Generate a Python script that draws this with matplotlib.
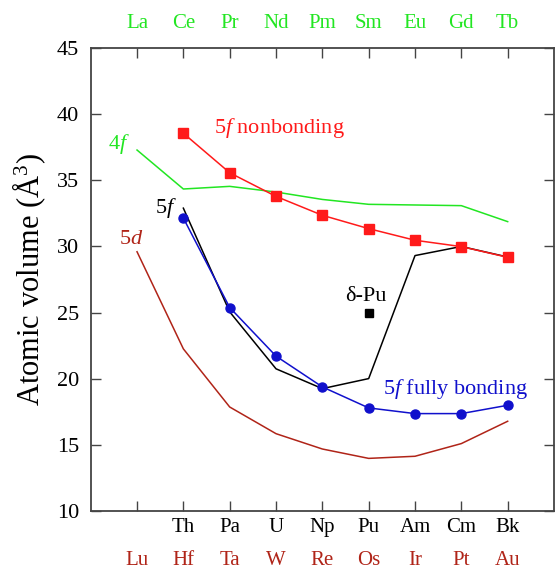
import matplotlib.pyplot as plt

plt.rcParams['font.family'] = ['Liberation Serif', 'DejaVu Serif']
plt.rcParams['mathtext.fontset'] = 'custom'
plt.rcParams['mathtext.rm'] = 'Liberation Serif'
plt.rcParams['mathtext.it'] = 'Liberation Serif:italic'

# element rows (position 0..8)
lanthanides = ['La', 'Ce', 'Pr', 'Nd', 'Pm', 'Sm', 'Eu', 'Gd', 'Tb']
actinides = ['', 'Th', 'Pa', 'U', 'Np', 'Pu', 'Am', 'Cm', 'Bk']
transition_5d = ['Lu', 'Hf', 'Ta', 'W', 'Re', 'Os', 'Ir', 'Pt', 'Au']

# atomic volumes (A^3)
vol_4f = [37.3, 34.35, 34.55, 34.12, 33.56, 33.19, 33.14, 33.09, 31.88]
vol_5d = [29.6, 22.25, 17.85, 15.83, 14.67, 13.96, 14.12, 15.08, 16.77]
vol_5f = [32.9, 25.05, 20.74, 19.24, 20.0, 29.31, 30.0, 29.2]            # Th..Bk measured
vol_5f_nonbond = [38.57, 35.58, 33.79, 32.36, 31.35, 30.47, 29.99, 29.18]  # Th..Bk
vol_5f_bond = [32.15, 25.38, 21.7, 19.37, 17.78, 17.35, 17.35, 17.98]     # Th..Bk
delta_pu = 25.0

green = '#22e622'
red = '#ff1a1a'
blue = '#1010cc'
dkred = '#b02418'

fig = plt.figure(figsize=(5.55, 5.70), dpi=100)
ax = fig.add_axes([90.7 / 555, (570 - 510.7) / 570, (554 - 90.7) / 555, 462.4 / 570])

x_all = list(range(9))
x_act = list(range(1, 9))

ax.plot(x_all, vol_4f, color=green, lw=1.1)
ax.plot(x_all, vol_5d, color=dkred, lw=1.1)
ax.plot(x_act, vol_5f, color='black', lw=1.1)
ax.plot(x_act, vol_5f_nonbond, color=red, lw=1.1, marker='s', ms=7)
ax.plot(x_act, vol_5f_bond, color=blue, lw=1.1, marker='o', ms=6.5)
ax.plot([5], [delta_pu], color='black', marker='s', ms=5.5, ls='none')

ax.set_xlim(-1, 9)
ax.set_ylim(10, 45)
ax.set_xticks(x_all)
ax.set_xticklabels([])
ax.set_yticks(range(10, 46, 5))
ax.tick_params(direction='in', length=7.5, width=1.0, top=True, right=True,
               labelsize=16, pad=8.5, color='#444444')
for s in ax.spines.values():
    s.set_color('#444444')
    s.set_linewidth(1.3)

tr = ax.get_xaxis_transform()
for i in x_all:
    ax.text(i, 1.054, lanthanides[i], color=green, fontsize=15, ha='center', va='center',
            transform=tr, clip_on=False)
    ax.text(i, -0.036, actinides[i], color='black', fontsize=15, ha='center', va='center',
            transform=tr, clip_on=False)
    ax.text(i, -0.108, transition_5d[i], color=dkred, fontsize=15, ha='center', va='center',
            transform=tr, clip_on=False)

ax.set_ylabel('Atomic volume (Å$^3$)', fontsize=22, labelpad=6)

ax.text(1.67, 39.0, '5$f$ nonbonding', color=red, fontsize=16, va='center')
ax.text(-0.63, 37.75, '4$f$', color=green, fontsize=16, va='center')
ax.text(0.38, 32.9, '5$f$', color='black', fontsize=16, va='center')
ax.text(-0.38, 30.5, '5$d$', color=dkred, fontsize=16, va='center')
ax.text(4.5, 26.25, 'δ-Pu', color='black', fontsize=16, va='center')
ax.text(5.3, 19.2, '5$f$ fully bonding', color=blue, fontsize=16, va='center')

fig.savefig('out.png', dpi=100)
